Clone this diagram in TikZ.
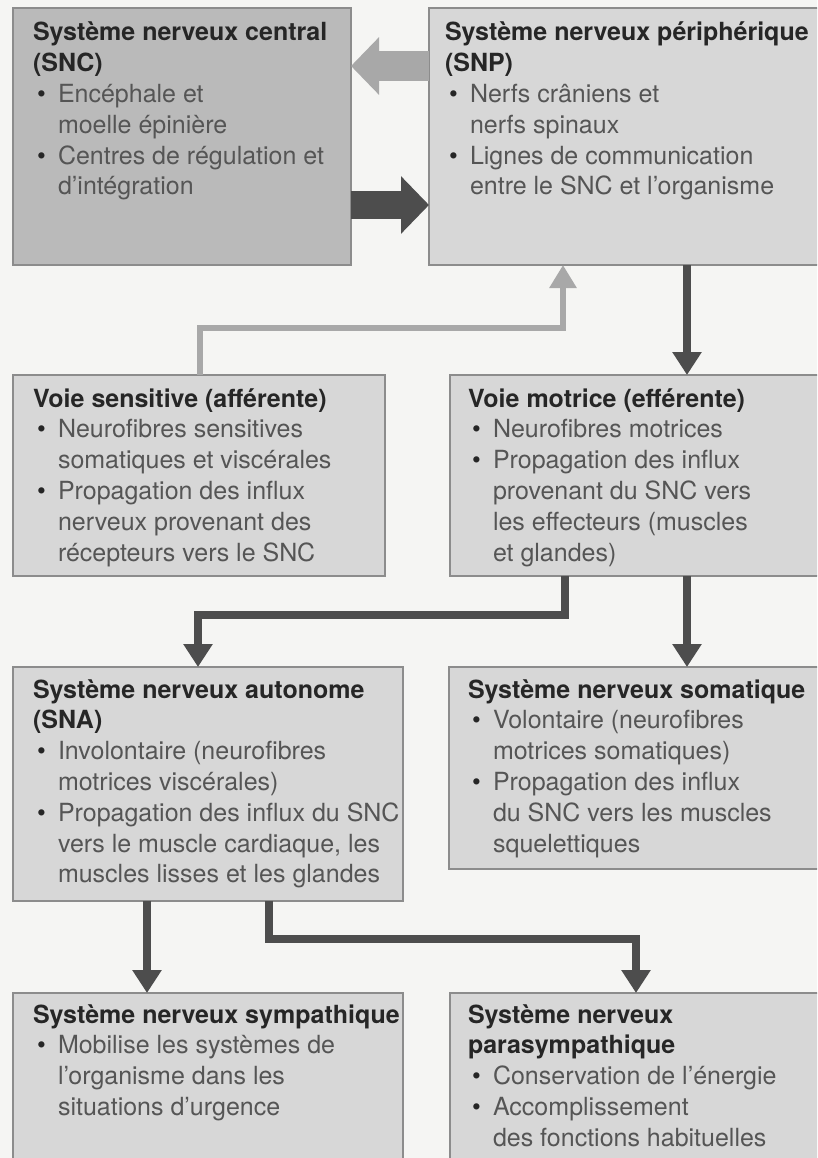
\documentclass[tikz,border=0pt]{standalone}
\usepackage{fontspec}
\setmainfont{TeX Gyre Heros}
\usetikzlibrary{arrows.meta}
\definecolor{bgc}{HTML}{F5F5F3}
\definecolor{sncfill}{HTML}{BABABA}
\definecolor{boxfill}{HTML}{D7D7D7}
\definecolor{borderc}{HTML}{8C8C8C}
\definecolor{titlec}{HTML}{262626}
\definecolor{bodyc}{HTML}{555555}
\definecolor{lightc}{HTML}{A8A8A8}
\definecolor{darkc}{HTML}{4D4D4D}
\newcommand\Ti[1]{\hbox{\bfseries\color{titlec}#1}}
\newcommand\Bu[1]{\hbox{\hspace*{4pt}\makebox[21pt][l]{\color{titlec}\textbullet}#1}}
\newcommand\Co[1]{\hbox{\hspace*{25pt}#1}}
\newcommand\Blk[1]{\vtop{\fontsize{25}{30.8}\selectfont #1}}
\tikzset{
  box/.style={draw=borderc, line width=1.6pt, fill=boxfill, anchor=north west, inner sep=0pt, outer sep=0pt},
  txt/.style={anchor=base west, inner sep=0pt, outer sep=0pt, text=bodyc},
  bigL/.style={draw=lightc, line width=30pt, -{Triangle[length=28pt,width=56pt]}},
  bigD/.style={draw=darkc, line width=28pt, -{Triangle[length=28pt,width=56pt]}},
  thinL/.style={draw=lightc, line width=6pt, -{Triangle[length=23pt,width=26pt]}},
  thinD/.style={draw=darkc, line width=8pt, -{Triangle[length=23pt,width=28pt]}},
}
\begin{document}
\begin{tikzpicture}[x=1pt,y=-1pt]
\fill[bgc] (0,0) rectangle (817,1158);
\clip (0,0) rectangle (817,1158);
% boxes
\node[box, fill=sncfill, minimum width=338pt, minimum height=257pt] (snc) at (13,8) {};
\node[box, minimum width=403pt, minimum height=257pt] (snp) at (429,8) {};
\node[box, minimum width=372pt, minimum height=201pt] (sens) at (13,375) {};
\node[box, minimum width=382pt, minimum height=201pt] (mot) at (450,375) {};
\node[box, minimum width=390pt, minimum height=234pt] (sna) at (13,667) {};
\node[box, minimum width=383pt, minimum height=202pt] (som) at (449,667) {};
\node[box, minimum width=390pt, minimum height=182pt] (sym) at (13,993) {};
\node[box, minimum width=382pt, minimum height=182pt] (para) at (450,993) {};
% texts
\node[txt] (sncT) at ([xshift=20pt,yshift=-33pt]snc.north west) {\Blk{%
\Ti{Système nerveux central}
\Ti{(SNC)}
\Bu{Encéphale et}
\Co{moelle épinière}
\Bu{Centres de régulation et}
\Co{d’intégration}}};
\node[txt] (snpT) at ([xshift=16pt,yshift=-33pt]snp.north west) {\Blk{%
\Ti{Système nerveux périphérique}
\Ti{(SNP)}
\Bu{Nerfs crâniens et}
\Co{nerfs spinaux}
\Bu{Lignes de communication}
\Co{entre le SNC et l’organisme}}};
\node[txt] (sensT) at ([xshift=20pt,yshift=-32pt]sens.north west) {\Blk{%
\Ti{Voie sensitive (afférente)}
\Bu{Neurofibres sensitives}
\Co{somatiques et viscérales}
\Bu{Propagation des influx}
\Co{nerveux provenant des}
\Co{récepteurs vers le SNC}}};
\node[txt] (motT) at ([xshift=18pt,yshift=-32pt]mot.north west) {\Blk{%
\Ti{Voie motrice (efférente)}
\Bu{Neurofibres motrices}
\Bu{Propagation des influx}
\Co{provenant du SNC vers}
\Co{les effecteurs (muscles}
\Co{et glandes)}}};
\node[txt] (snaT) at ([xshift=20pt,yshift=-31pt]sna.north west) {\Blk{%
\Ti{Système nerveux autonome}
\Ti{(SNA)}
\Bu{Involontaire (neurofibres}
\Co{motrices viscérales)}
\Bu{Propagation des influx du SNC}
\Co{vers le muscle cardiaque, les}
\Co{muscles lisses et les glandes}}};
\node[txt] (somT) at ([xshift=19pt,yshift=-31pt]som.north west) {\Blk{%
\Ti{Système nerveux somatique}
\Bu{Volontaire (neurofibres}
\Co{motrices somatiques)}
\Bu{Propagation des influx}
\Co{du SNC vers les muscles}
\Co{squelettiques}}};
\node[txt] (symT) at ([xshift=20pt,yshift=-30pt]sym.north west) {\Blk{%
\Ti{Système nerveux sympathique}
\Bu{Mobilise les systèmes de}
\Co{l’organisme dans les}
\Co{situations d’urgence}}};
\node[txt] (paraT) at ([xshift=18pt,yshift=-30pt]para.north west) {\Blk{%
\Ti{Système nerveux}
\Ti{parasympathique}
\Bu{Conservation de l’énergie}
\Bu{Accomplissement}
\Co{des fonctions habituelles}}};
% connectors
\draw[bigL] ([yshift=-58pt]snp.north west) -- ([yshift=-58pt]snc.north east);
\draw[bigD] ([yshift=-197pt]snc.north east) -- ([yshift=-197pt]snp.north west);
\draw[thinL] ([xshift=187pt]sens.north west) |- ([xshift=134pt,yshift=-63pt]snp.south west) -- ([xshift=134pt]snp.south west);
\draw[thinD] ([xshift=258pt]snp.south west) -- ([xshift=237pt]mot.north west);
\draw[thinD] ([xshift=115pt]mot.south west) |- ([xshift=185pt,yshift=52pt]sna.north west) -- ([xshift=185pt]sna.north west);
\draw[thinD] ([xshift=237pt]mot.south west) -- ([xshift=238pt]som.north west);
\draw[thinD] ([xshift=134pt]sna.south west) -- ([xshift=134pt]sym.north west);
\draw[thinD] ([xshift=256pt]sna.south west) |- ([xshift=186pt,yshift=54pt]para.north west) -- ([xshift=186pt]para.north west);
\end{tikzpicture}
\end{document}
